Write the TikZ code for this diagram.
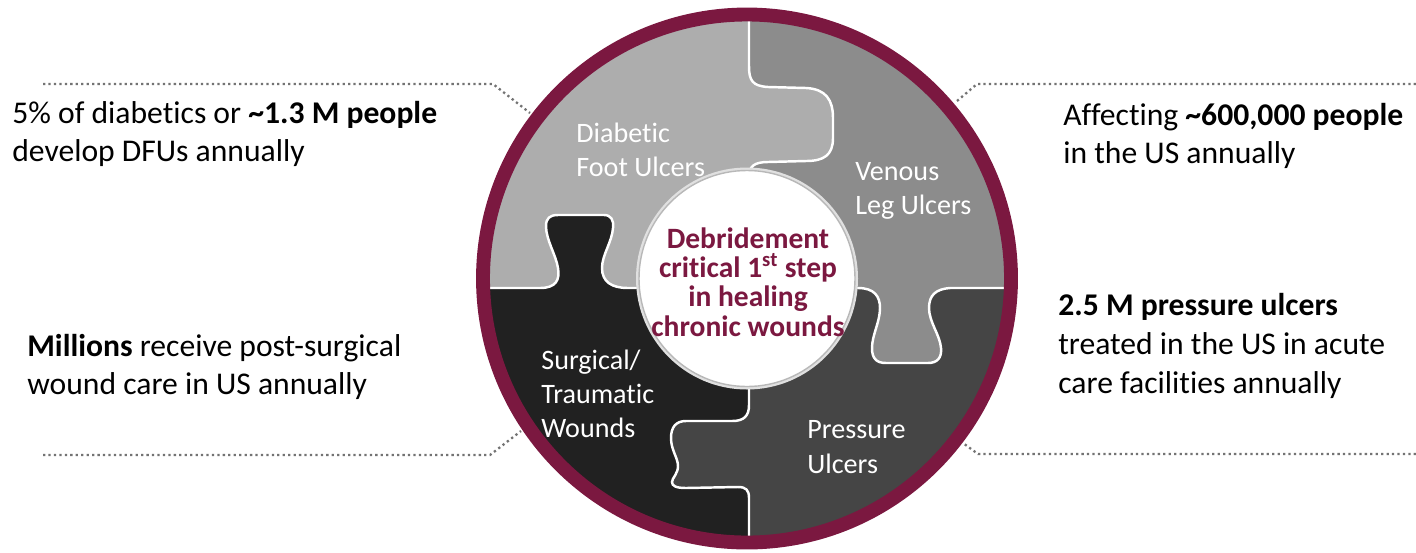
\documentclass[tikz,border=0pt]{standalone}
\usepackage{fontspec}
\setmainfont{Carlito}[Ligatures=NoCommon]
\definecolor{wine}{RGB}{123,24,64}
\definecolor{dfugray}{RGB}{173,173,173}
\definecolor{vlugray}{RGB}{140,140,140}
\definecolor{surggray}{RGB}{33,33,33}
\definecolor{presgray}{RGB}{69,69,69}
\tikzset{
  piecelabel/.style={text=white,align=left,anchor=west,inner sep=0pt,font=\fontsize{16}{19.5}\selectfont},
  factlabel/.style={text=black,align=left,anchor=west,inner sep=0pt,font=\fontsize{18}{22}\selectfont},
  seam/.style={white,line width=1.4pt},
  leader/.style={black!55,line width=1.3pt,dash pattern=on 1.3pt off 1.8pt}
}
\begin{document}
\begin{tikzpicture}[x=0.02cm,y=-0.02cm]
  \useasboundingbox (0,0) rectangle (1416,552);
  \coordinate (hub) at (747,278.5);
  % the four puzzle pieces
  \begin{scope}
    \clip (hub) circle (264);
    \fill[dfugray] (440,-10) rectangle (749,288);
    \fill[vlugray] (749,-10) rectangle (1050,288);
    \fill[surggray] (440,288) rectangle (749,570);
    \fill[presgray] (749,288) rectangle (1050,570);
    % knobs
    \fill[dfugray] (749,60) -- (749,66) .. controls (749,80) and (752,86) .. (768,87) -- (806,88)
      .. controls (826,89) and (833,100) .. (833,118) -- (833,138) .. controls (833,155) and (824,161) .. (806,161)
      -- (768,162) .. controls (755,162) and (749,166) .. (749,176) -- cycle;
    \fill[surggray] (540,288) .. controls (556,288) and (560,280) .. (558,268) .. controls (556,255) and (546,240) .. (546,226)
      .. controls (546,218) and (550,215) .. (558,215) -- (604,215) .. controls (611,215) and (614,220) .. (613,228)
      .. controls (612,242) and (602,255) .. (602,268) .. controls (602,282) and (612,288) .. (628,288) -- cycle;
    \fill[vlugray] (858,288) .. controls (874,288) and (880,296) .. (880,308) .. controls (880,322) and (872,335) .. (872,348)
      .. controls (872,358) and (876,363) .. (886,363) -- (928,363) .. controls (937,363) and (942,358) .. (941,348)
      .. controls (940,335) and (929,322) .. (929,308) .. controls (929,295) and (936,289) .. (950,288) -- cycle;
    \fill[presgray] (749,405) .. controls (749,416) and (744,421) .. (732,421) -- (686,421) .. controls (676,421) and (671,427) .. (671,438)
      .. controls (671,450) and (678,458) .. (678,466) .. controls (678,474) and (672,478) .. (672,482)
      .. controls (672,486) and (676,488) .. (686,488) -- (738,487) .. controls (746,487) and (749,490) .. (749,498) -- cycle;
    % seams
    \draw[seam] (749,-10) -- (749,66) .. controls (749,80) and (752,86) .. (768,87) -- (806,88)
      .. controls (826,89) and (833,100) .. (833,118) -- (833,138) .. controls (833,155) and (824,161) .. (806,161)
      -- (768,162) .. controls (755,162) and (749,166) .. (749,176) -- (749,288);
    \draw[seam] (440,288) -- (540,288) .. controls (556,288) and (560,280) .. (558,268) .. controls (556,255) and (546,240) .. (546,226)
      .. controls (546,218) and (550,215) .. (558,215) -- (604,215) .. controls (611,215) and (614,220) .. (613,228)
      .. controls (612,242) and (602,255) .. (602,268) .. controls (602,282) and (612,288) .. (628,288) -- (749,288);
    \draw[seam] (749,288) -- (858,288) .. controls (874,288) and (880,296) .. (880,308) .. controls (880,322) and (872,335) .. (872,348)
      .. controls (872,358) and (876,363) .. (886,363) -- (928,363) .. controls (937,363) and (942,358) .. (941,348)
      .. controls (940,335) and (929,322) .. (929,308) .. controls (929,295) and (936,289) .. (950,288) -- (1050,288);
    \draw[seam] (749,288) -- (749,405) .. controls (749,416) and (744,421) .. (732,421) -- (686,421) .. controls (676,421) and (671,427) .. (671,438)
      .. controls (671,450) and (678,458) .. (678,466) .. controls (678,474) and (672,478) .. (672,482)
      .. controls (672,486) and (676,488) .. (686,488) -- (738,487) .. controls (746,487) and (749,490) .. (749,498) -- (749,570);
  \end{scope}
  % rim and hub
  \draw[wine,line width=7.9pt] (hub) circle (264);
  \fill[black!12] (hub) circle (111);
  \fill[white] (hub) circle (108);
  \draw[black!28,line width=0.8pt] (hub) circle (108);
  \node[wine,align=center,inner sep=0pt,font=\fontsize{16.8}{16.6}\bfseries] (core) at (748,282)
    {Debridement\\critical 1\textsuperscript{st} step\\in healing\\chronic wounds};
  % piece labels
  \node[piecelabel] (dfu) at (576,150) {Diabetic\\Foot Ulcers};
  \node[piecelabel] (vlu) at (855,191) {Venous\\Leg Ulcers};
  \node[piecelabel] (surg) at (541,394) {Surgical/\\Traumatic\\Wounds};
  \node[piecelabel] (pres) at (807,447) {Pressure\\Ulcers};
  % facts
  \node[factlabel] (dfufact) at (12,134) {5\% of diabetics or \textbf{\textasciitilde1.3 M people}\\develop DFUs annually};
  \node[factlabel] (vlufact) at (1063,136) {Affecting \textbf{\textasciitilde600,000 people}\\in the US annually};
  \node[factlabel] (surgfact) at (27,367) {\textbf{Millions} receive post-surgical\\wound care in US annually};
  \node[factlabel] (presfact) at (1058,346) {\textbf{2.5 M pressure ulcers}\\treated in the US in acute\\care facilities annually};
  % leaders
  \coordinate (tl0) at (43,84);    \coordinate (tl1) at (493,84);   \coordinate (tl2) at (530,113);
  \coordinate (tr0) at (1416,84);  \coordinate (tr1) at (977,84);   \coordinate (tr2) at (957,101);
  \coordinate (bl0) at (43,455);   \coordinate (bl1) at (490,455);  \coordinate (bl2) at (521,431);
  \coordinate (br0) at (1416,454); \coordinate (br1) at (978,454);  \coordinate (br2) at (963,443);
  \draw[leader] (tl0) -- (tl1) -- (tl2);
  \draw[leader] (tr0) -- (tr1) -- (tr2);
  \draw[leader] (bl0) -- (bl1) -- (bl2);
  \draw[leader] (br0) -- (br1) -- (br2);
\end{tikzpicture}
\end{document}
